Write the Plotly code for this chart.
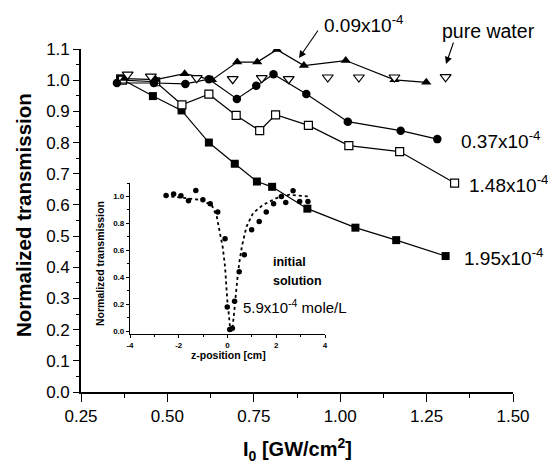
import plotly.graph_objects as go

# ---------------- main panel data (I0 [GW/cm^2] vs normalized transmission)
x_009 = [0.376, 0.466, 0.550, 0.629, 0.702, 0.760, 0.817, 0.895, 1.016, 1.157, 1.249]
y_009 = [1.005, 1.002, 1.021, 1.001, 1.058, 1.058, 1.098, 1.047, 1.063, 1.001, 0.993]

x_037 = [0.354, 0.461, 0.552, 0.620, 0.701, 0.757, 0.807, 0.902, 1.022, 1.175, 1.281]
y_037 = [0.991, 0.991, 0.988, 1.003, 0.940, 0.982, 1.019, 0.956, 0.867, 0.838, 0.811]

x_148 = [0.370, 0.466, 0.542, 0.620, 0.699, 0.767, 0.813, 0.908, 1.025, 1.172, 1.331]
y_148 = [1.000, 0.995, 0.921, 0.955, 0.887, 0.838, 0.889, 0.855, 0.790, 0.771, 0.670]

x_195 = [0.363, 0.458, 0.541, 0.620, 0.695, 0.759, 0.803, 0.905, 1.044, 1.162, 1.305]
y_195 = [1.006, 0.949, 0.903, 0.800, 0.732, 0.675, 0.658, 0.588, 0.527, 0.487, 0.436]

x_water = [0.385, 0.452, 0.585, 0.689, 0.773, 0.851, 0.964, 1.054, 1.157, 1.305]
y_water = [1.018, 1.012, 1.007, 1.004, 1.007, 1.004, 1.009, 1.009, 1.009, 1.010]

x_ticks = [0.25, 0.50, 0.75, 1.00, 1.25, 1.50]
y_ticks = [0.0, 0.1, 0.2, 0.3, 0.4, 0.5, 0.6, 0.7, 0.8, 0.9, 1.0, 1.1]

# ---------------- inset data (z-scan of initial solution)
z_pos = [-2.52, -2.21, -1.91, -1.60, -1.30, -1.01, -0.71, -0.40, -0.10, -0.01, 0.09, 0.20,
         0.29, 0.48, 0.69, 0.99, 1.30, 1.59, 1.89, 2.21, 2.39, 2.69, 2.96, 3.30]
t_z = [1.007, 1.018, 1.005, 0.968, 1.045, 0.976, 0.946, 0.884, 0.686, 0.181, 0.013, 0.022,
       0.223, 0.441, 0.567, 0.753, 0.814, 0.884, 0.946, 1.000, 0.955, 1.042, 0.963, 0.963]

fit_z = [-2.55, -1.80, -1.12, -0.65, -0.44, -0.31, -0.20, -0.10, -0.06, -0.01, 0.05, 0.10, 0.16,
         0.21, 0.27, 0.32, 0.40, 0.48, 0.59, 0.78, 1.05, 1.46, 2.01, 2.55, 3.09, 3.30]
fit_t = [1.005, 0.988, 0.975, 0.938, 0.851, 0.728, 0.629, 0.480, 0.357, 0.233, 0.134, 0.034, 0.0,
         0.034, 0.134, 0.257, 0.381, 0.505, 0.629, 0.777, 0.877, 0.938, 0.988, 1.013, 1.000, 1.000]

inset_x_ticks = [-4, -2, 0, 2, 4]
inset_y_ticks = [0.0, 0.2, 0.4, 0.6, 0.8, 1.0]

# ---------------- layout geometry
W, H = 548, 464
ML, MR, MT, MB = 81, 35, 49, 72
PW, PH = W - ML - MR, H - MT - MB


def px(xp):
    return (xp - ML) / PW


def py(yp):
    return (H - MB - yp) / PH


FONT = "Liberation Sans, Arial, sans-serif"

fig = go.Figure()

line = dict(color="black", width=1.2)
fig.add_trace(go.Scatter(x=x_195, y=y_195, mode="lines+markers", line=line,
                         marker=dict(symbol="square", size=8, color="black")))
fig.add_trace(go.Scatter(x=x_148, y=y_148, mode="lines+markers", line=line,
                         marker=dict(symbol="square", size=8, color="white",
                                     line=dict(color="black", width=1.2))))
fig.add_trace(go.Scatter(x=x_037, y=y_037, mode="lines+markers", line=line,
                         marker=dict(symbol="circle", size=8.5, color="black")))
fig.add_trace(go.Scatter(x=x_009, y=y_009, mode="lines+markers", line=line,
                         marker=dict(symbol="triangle-up", size=9, color="black")))
fig.add_trace(go.Scatter(x=x_water, y=y_water, mode="markers",
                         marker=dict(symbol="triangle-down", size=9.5, color="white",
                                     line=dict(color="black", width=1.2))))

# inset
fig.add_trace(go.Scatter(x=fit_z, y=fit_t, mode="lines", xaxis="x2", yaxis="y2",
                         line=dict(color="black", width=1.8, dash="dot")))
fig.add_trace(go.Scatter(x=z_pos, y=t_z, mode="markers", xaxis="x2", yaxis="y2",
                         marker=dict(symbol="circle", size=5.5, color="black")))

axis_common = dict(showline=True, linecolor="black", linewidth=1.6, ticks="outside",
                   tickcolor="black", tickwidth=1.4, showgrid=False, zeroline=False,
                   mirror=False)

fig.update_layout(
    width=W, height=H,
    margin=dict(l=ML, r=MR, t=MT, b=MB),
    paper_bgcolor="white", plot_bgcolor="rgba(0,0,0,0)",
    showlegend=False,
    font=dict(family=FONT, color="black"),
    xaxis=dict(axis_common, range=[0.25, 1.5], tickmode="array", tickvals=x_ticks,
               ticktext=[f"{v:.2f}" for v in x_ticks], ticklen=8,
               tickfont=dict(size=17, family=FONT),
               minor=dict(ticks="outside", dtick=0.125, tick0=0.25, ticklen=4,
                          tickcolor="black", tickwidth=1.2, showgrid=False)),
    yaxis=dict(axis_common, range=[0, 1.1], tickmode="array", tickvals=y_ticks,
               ticktext=[f"{v:.1f}" for v in y_ticks], ticklen=6,
               tickfont=dict(size=17, family=FONT),
               minor=dict(ticks="outside", dtick=0.05, tick0=0, ticklen=3,
                          tickcolor="black", tickwidth=1.2, showgrid=False)),
    xaxis2=dict(axis_common, domain=[px(130), px(325)], anchor="y2", range=[-4, 4],
                tickmode="array", tickvals=inset_x_ticks,
                ticktext=[str(v) for v in inset_x_ticks], ticklen=3, linewidth=1.2,
                tickwidth=1, tickfont=dict(size=8, family=FONT, weight="bold"),
                minor=dict(ticks="outside", dtick=1, tick0=0, ticklen=2,
                           tickcolor="black", tickwidth=1, showgrid=False)),
    yaxis2=dict(axis_common, domain=[py(334), py(183)], anchor="x2", range=[-0.02, 1.1],
                tickmode="array", tickvals=inset_y_ticks,
                ticktext=[f"{v:.1f}" for v in inset_y_ticks], ticklen=3, linewidth=1.2,
                tickwidth=1, tickfont=dict(size=8, family=FONT, weight="bold"),
                minor=dict(ticks="outside", dtick=0.1, tick0=0, ticklen=2,
                           tickcolor="black", tickwidth=1, showgrid=False)),
)

ann = []


def text(xp, yp, s, size, xanchor="left", weight="normal", family=FONT, angle=0):
    ann.append(dict(x=px(xp), y=py(yp), xref="paper", yref="paper", text=s,
                    showarrow=False, xanchor=xanchor, yanchor="middle", textangle=angle,
                    font=dict(size=size, family=family, weight=weight, color="black")))


def arrow(tipx, tipy, tailx, taily):
    ann.append(dict(x=px(tipx), y=py(tipy), xref="paper", yref="paper", text="",
                    showarrow=True, ax=tailx - tipx, ay=taily - tipy, arrowhead=2,
                    arrowsize=1.3, arrowwidth=1.1, arrowcolor="black"))


# axis titles
text(23, 215, "Normalized transmission", 20.5, "center", "bold", FONT, -90)
text(297, 449, "I<sub>0</sub> [GW/cm<sup>2</sup>]", 20, "center", "bold")

# series labels
text(322, 24, "0.09x10<sup>-4</sup>", 19)
text(440, 31, "pure water", 19.5)
text(459, 140, "0.37x10<sup>-4</sup>", 19)
text(467, 184, "1.48x10<sup>-4</sup>", 19)
text(462, 257, "1.95x10<sup>-4</sup>", 19)
arrow(299, 58, 319, 29)
arrow(446, 64, 454, 41)

# inset texts
text(100, 264, "Normalized transmission", 10.5, "center", "bold", FONT, -90)
text(228, 355, "z-position [cm]", 10.5, "center", "bold")
text(271, 262, "initial", 12.5, "left", "bold")
text(271, 281, "solution", 12.5, "left", "bold")
text(241, 306, "5.9x10<sup>-4</sup> mole/L", 15)

fig.update_layout(annotations=ann)
fig.write_html("out.html", config={"displayModeBar": False},
               post_script="document.body.style.margin='0';")
